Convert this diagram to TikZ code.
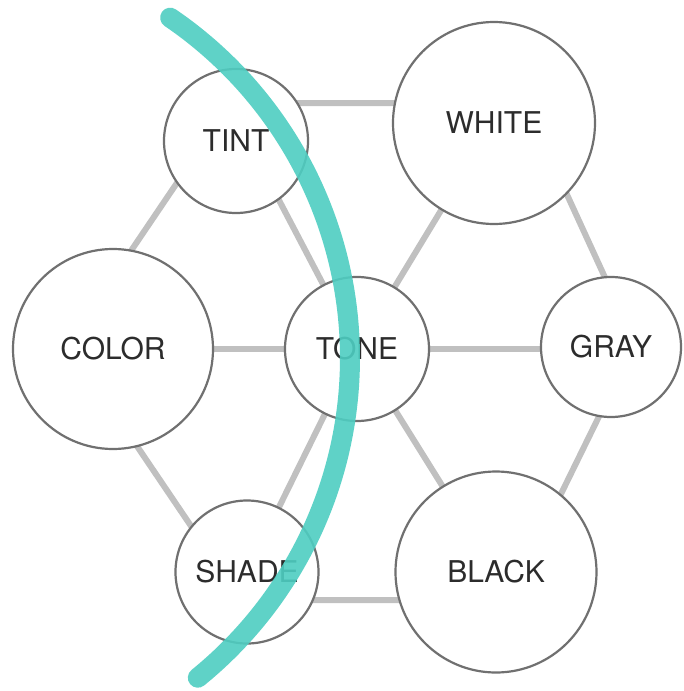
\documentclass[tikz,border=0pt]{standalone}
\usepackage{fontspec}
\setmainfont{TeX Gyre Heros}
\usetikzlibrary{backgrounds}
\definecolor{tealband}{RGB}{78,206,194}
\definecolor{edgegray}{RGB}{192,192,192}
\definecolor{ringgray}{RGB}{112,112,112}
\definecolor{txtgray}{RGB}{44,44,44}
\begin{document}
\begin{tikzpicture}[x=1pt,y=-1pt,
  bubble/.style={circle,draw=ringgray,line width=2.2pt,fill=white,inner sep=0pt,
    text=txtgray,font=\fontsize{30}{30}\selectfont},
  hexline/.style={draw=edgegray,line width=6pt,line join=round},
  band/.style={draw=tealband,line width=20pt,line cap=round,opacity=0.9}]
\useasboundingbox (0,0) rectangle (683,691);
% hexagon frame vertices (hidden inside the circles)
\coordinate (vL) at (68,344);
\coordinate (vTL) at (231,103);
\coordinate (vTR) at (525,103);
\coordinate (vR) at (635,343);
\coordinate (vBR) at (509,600);
\coordinate (vBL) at (241,600);
\draw[hexline] (vL) -- (vTL) -- (vTR) -- (vR) -- (vBR) -- (vBL) -- cycle;
% circles
\node[bubble,minimum size=144pt] (tint) at (236,141) {TINT};
\node[bubble,minimum size=202pt] (white) at (494,123) {WHITE};
\node[bubble,minimum size=200pt] (color) at (113,349) {COLOR};
\node[bubble,minimum size=144pt] (tone) at (357,349) {TONE};
\node[bubble,minimum size=140pt] (gray) at (611,347) {GRAY};
\node[bubble,minimum size=143pt] (shade) at (247,572) {SHADE};
\node[bubble,minimum size=201pt] (black) at (496,572) {BLACK};
% spokes behind the circles
\begin{scope}[on background layer]
  \fill[white] (0,0) rectangle (683,691);
  \draw[hexline] (tone.center) -- ([xshift=12pt]tint.center);
  \draw[hexline] (tone.center) -- (white.center);
  \draw[hexline] (tone.center) -- (tone.center -| color.center);
  \draw[hexline] (tone.center) -- (tone.center -| gray.center);
  \draw[hexline] (tone.center) -- (shade.center);
  \draw[hexline] (tone.center) -- (black.center);
\end{scope}
% teal arc
\draw[band] plot[domain=-55.7:50.9,samples=80,smooth] ({-62+412*cos(\x)},{358+412*sin(\x)});
\end{tikzpicture}
\end{document}
